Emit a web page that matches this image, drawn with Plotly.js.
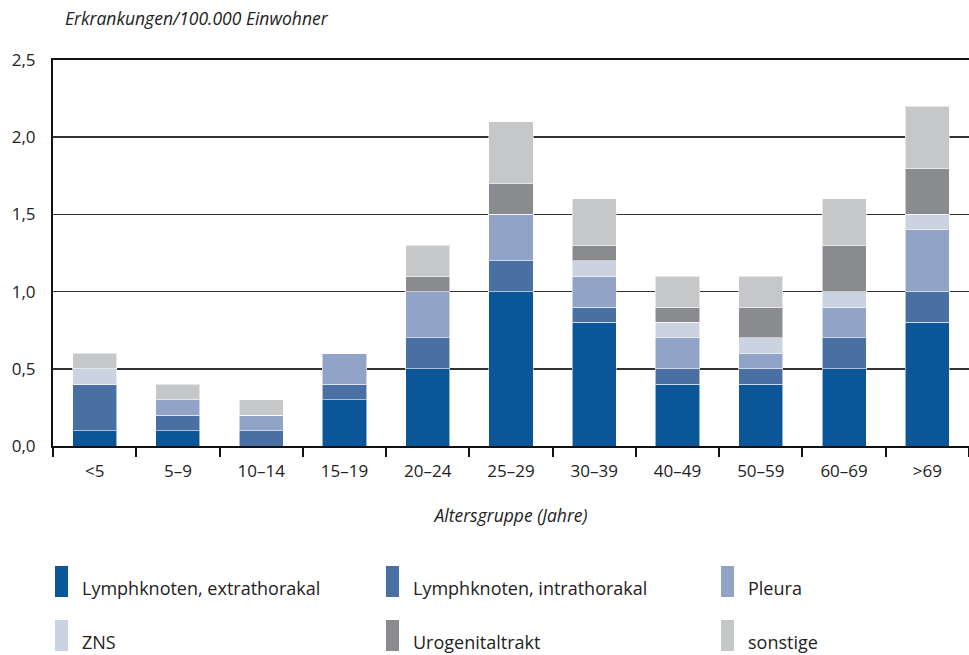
<!DOCTYPE html>
<html>
<head>
<meta charset="utf-8">
<script src="https://cdn.plot.ly/plotly-3.0.1.min.js"></script>
<style>
  html, body { margin: 0; padding: 0; background: #fff; }
  #chart { width: 969px; height: 655px; }
</style>
</head>
<body>
<div id="chart"></div>
<script>
// age groups
const ageGroups = ['<5', '5–9', '10–14', '15–19', '20–24', '25–29', '30–39', '40–49', '50–59', '60–69', '>69'];

// incidence per 100.000, stacked by site
const lkExtra  = [0.1, 0.1, 0.0, 0.3, 0.5, 1.0, 0.8, 0.4, 0.4, 0.5, 0.8];
const lkIntra  = [0.3, 0.1, 0.1, 0.1, 0.2, 0.2, 0.1, 0.1, 0.1, 0.2, 0.2];
const pleura   = [0.0, 0.1, 0.1, 0.2, 0.3, 0.3, 0.2, 0.2, 0.1, 0.2, 0.4];
const zns      = [0.1, 0.0, 0.0, 0.0, 0.0, 0.0, 0.1, 0.1, 0.1, 0.1, 0.1];
const urogen   = [0.0, 0.0, 0.0, 0.0, 0.1, 0.2, 0.1, 0.1, 0.2, 0.3, 0.3];
const sonstige = [0.1, 0.1, 0.1, 0.0, 0.2, 0.4, 0.3, 0.2, 0.2, 0.3, 0.4];

const seriesNames = ['Lymphknoten, extrathorakal', 'Lymphknoten, intrathorakal', 'Pleura',
                     'ZNS', 'Urogenitaltrakt', 'sonstige'];
const seriesValues = [lkExtra, lkIntra, pleura, zns, urogen, sonstige];
const seriesColors = ['#0a5699', '#4a6fa3', '#91a3c6', '#cad3df', '#8a8b8f', '#c6c7c9'];

const yTickVals = [0, 0.5, 1.0, 1.5, 2.0, 2.5];
const yTickText = ['0,0', '0,5', '1,0', '1,5', '2,0', '2,5'];

const FONT = 'Open Sans, Lato, sans-serif';

const data = seriesNames.map((name, i) => ({
  type: 'bar',
  name: name,
  x: ageGroups,
  y: seriesValues[i],
  marker: { color: seriesColors[i], line: { color: 'rgba(255,255,255,0.55)', width: 1 } },
  hoverinfo: 'x+y+name'
}));

// plot area in pixels, for placing the custom legend
const plotL = 53, plotR = 969, plotT = 60, plotB = 446;
const px = v => (v - plotL) / (plotR - plotL);
const py = v => (plotB - v) / (plotB - plotT);

const legCols = [55, 386, 721];
const legRows = [566, 620];
const shapes = [];
const annotations = [];
seriesNames.forEach((name, i) => {
  const cx = legCols[i % 3];
  const ry = legRows[Math.floor(i / 3)];
  shapes.push({
    type: 'rect', xref: 'paper', yref: 'paper',
    x0: px(cx), x1: px(cx + 13), y0: py(ry), y1: py(ry + 31),
    fillcolor: seriesColors[i], line: { width: 0 }
  });
  annotations.push({
    xref: 'paper', yref: 'paper', x: px(cx + 25), y: py(ry + 22),
    xanchor: 'left', yanchor: 'middle', showarrow: false,
    text: name, font: { family: FONT, size: 18, color: '#222' }
  });
});

annotations.push({
  xref: 'paper', yref: 'paper', x: px(63), y: py(18),
  xanchor: 'left', yanchor: 'middle', showarrow: false,
  text: '<i>Erkrankungen/100.000 Einwohner</i>',
  font: { family: FONT, size: 17.5, color: '#222' }
});

const layout = {
  width: 969, height: 655,
  margin: { l: plotL, r: 969 - plotR, t: plotT, b: 655 - plotB },
  paper_bgcolor: '#fff', plot_bgcolor: '#fff',
  barmode: 'stack',
  bargap: 0.47,
  showlegend: false,
  font: { family: FONT, size: 17, color: '#222' },
  xaxis: {
    type: 'category',
    showline: true, linecolor: '#111', linewidth: 2, mirror: true,
    ticks: 'outside', tickson: 'boundaries', ticklen: 9, tickwidth: 2, tickcolor: '#111',
    ticklabelstandoff: 9,
    tickfont: { family: FONT, size: 17, color: '#222' },
    title: { text: '<i>Altersgruppe (Jahre)</i>', font: { family: FONT, size: 17.5, color: '#222' }, standoff: 28 },
    showgrid: false, fixedrange: true
  },
  yaxis: {
    range: [0, 2.5],
    tickvals: yTickVals, ticktext: yTickText,
    showline: true, linecolor: '#111', linewidth: 2,
    ticks: '', ticklabelstandoff: 12,
    tickfont: { family: FONT, size: 17, color: '#222' },
    showgrid: true, gridcolor: '#333', gridwidth: 1.5,
    zeroline: false, fixedrange: true
  },
  shapes: shapes,
  annotations: annotations
};

Plotly.newPlot('chart', data, layout, { displayModeBar: false, staticPlot: true });
</script>
</body>
</html>
